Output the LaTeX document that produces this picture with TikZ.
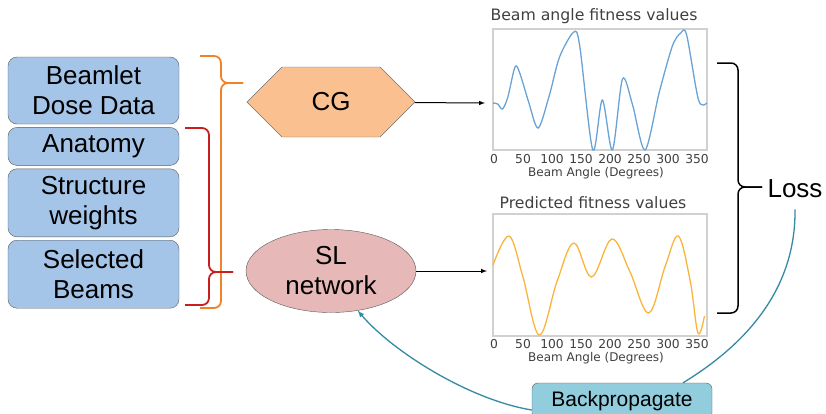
\documentclass[tikz,border=0pt]{standalone}
\usepackage{fontspec}
\setmainfont{Liberation Sans}
\newfontfamily\plotfont{DejaVu Sans}
\usetikzlibrary{positioning,shapes.geometric,shapes.symbols}
\definecolor{boxblue}{RGB}{164,196,232}
\definecolor{cgorange}{RGB}{250,192,143}
\definecolor{slpink}{RGB}{230,184,184}
\definecolor{bpteal}{RGB}{146,205,221}
\definecolor{linkteal}{RGB}{52,138,162}
\definecolor{braceorange}{RGB}{240,130,40}
\definecolor{bracered}{RGB}{200,30,30}
\definecolor{fitblue}{RGB}{105,163,214}
\definecolor{fitorange}{RGB}{250,180,60}
\tikzstyle{input box}=[
        draw = black!65,
        fill = boxblue,
        rounded corners = 9pt,
        minimum width = 171pt,
        align = center,
        font = \fontsize{26}{30}\selectfont
    ]
\tikzstyle{plot frame}=[
    draw = black!18,
    line width = 1.2pt
]
\tikzstyle{plot text}=[
    text = black!75,
    inner sep = 0pt
]
\tikzstyle{brace line}=[
    rounded corners = 7pt,
    line width = 1.8pt
]

\begin{document}
\begin{tikzpicture}[x=1pt, y=-1pt, >=latex]
        \useasboundingbox (0,0) rectangle (826,413);
        \clip (0,0) rectangle (826,413);

        % inputs
        \node[input box, minimum height=67pt] (dose) at (93.5,90.5) {Beamlet\\Dose Data};
        \node[input box, minimum height=38pt, below=3pt of dose] (anat) {Anatomy};
        \node[input box, minimum height=68pt, below=3pt of anat] (weights) {Structure\\weights};
        \node[input box, minimum height=68pt, below=3pt of weights] (beams) {Selected\\Beams};

        % braces
        \coordinate (otip) at (243,83);
        \coordinate (rtip) at (233,272);
        \draw[brace line, braceorange] (otip) -- (221,83) -- (221,56) -- (200,56);
        \draw[brace line, braceorange] (otip) -- (221,83) -- (221,308) -- (200,308);
        \draw[brace line, bracered] (rtip) -- (209,272) -- (209,128) -- (185,128);
        \draw[brace line, bracered] (rtip) -- (209,272) -- (209,305) -- (185,305);

        % models
        \node[shape=signal, signal to=east and west, draw=black!55, fill=cgorange,
              minimum width=168pt, minimum height=70pt,
              font=\fontsize{26}{30}\selectfont] (cg) at (331,102) {CG};
        \node[ellipse, draw=black!65, fill=slpink, minimum width=170pt, minimum height=83pt,
              inner sep=0pt, align=center, font=\fontsize{26}{30}\selectfont] (sl) at (331,271) {SL\\network};

        \coordinate (in1) at (485,103);
        \coordinate (in2) at (487,271);
        \draw[->, line width=1pt] (cg) -- (in1);
        \draw[->, line width=1pt] (sl) -- (in2);

        % fitness plot
        \node[plot text, font=\plotfont\fontsize{15.7}{18}\selectfont] (title1) at (594,16) {Beam angle fitness values};
        \draw[plot frame] (493,29) rectangle (707,150);
        \begin{scope}[shift={(493pt,-150pt)}, x=0.594pt, y=1pt]
            \draw[fitblue, line width=1.3pt] plot[smooth, tension=0.5] coordinates {
                (0,47) (8,46) (16,41) (25,53) (37,83) (45,77) (60,48) (76,22)
                (95,55) (112,93) (136,118) (146,104) (168,0) (184,50) (201,0)
                (218,71) (235,45) (256,0) (280,58) (302,104) (316,117) (326,115)
                (346,50) (360,47)};
        \end{scope}
        \foreach \t in {0,50,...,350}
            \node[plot text, font=\plotfont\fontsize{12.3}{14}\selectfont] (tick1-\t) at (494+\t*0.58,159) {\t};
        \node[plot text, font=\plotfont\fontsize{12}{14}\selectfont] (xlab1) at (596,173) {Beam Angle (Degrees)};

        % predicted plot
        \node[plot text, font=\plotfont\fontsize{15.7}{18}\selectfont] (title2) at (593,203) {Predicted fitness values};
        \draw[plot frame] (493,214) rectangle (707,336);
        \begin{scope}[shift={(493pt,-336pt)}, x=0.594pt, y=1pt]
            \draw[fitorange, line width=1.3pt] plot[smooth, tension=0.6] coordinates {
                (0,71) (27,100) (50,60) (78,1) (108,55) (136,93) (166,59)
                (200,97) (230,65) (262,23) (290,70) (312,100) (332,55) (345,3) (356,20)};
        \end{scope}
        \foreach \t in {0,50,...,350}
            \node[plot text, font=\plotfont\fontsize{12.3}{14}\selectfont] (tick2-\t) at (494+\t*0.58,344) {\t};
        \node[plot text, font=\plotfont\fontsize{12}{14}\selectfont] (xlab2) at (596,358) {Beam Angle (Degrees)};

        % loss
        \coordinate (ltip) at (762,187);
        \draw[brace line, black, line width=1.5pt] (ltip) -- (738,187) -- (738,63) -- (717,63);
        \draw[brace line, black, line width=1.5pt] (ltip) -- (738,187) -- (738,313) -- (717,313);
        \node[font=\fontsize{26}{30}\selectfont, inner sep=1pt] (loss) at (795,189) {Loss};

        \node[draw=black!65, fill=bpteal, rounded corners=6pt, minimum width=180pt, minimum height=36pt,
              font=\fontsize{21}{25}\selectfont] (bp) at (622,401) {Backpropagate};

        \draw[linkteal, line width=1.3pt] ([yshift=-10pt]loss.south)
            .. controls (796,290) and (745,345) .. ([xshift=61pt]bp.north);
        \draw[linkteal, line width=1.3pt, ->] ([yshift=-9pt]bp.west)
            .. controls (470,400) and (393,352) .. (sl.-56);

    \end{tikzpicture}
\end{document}
